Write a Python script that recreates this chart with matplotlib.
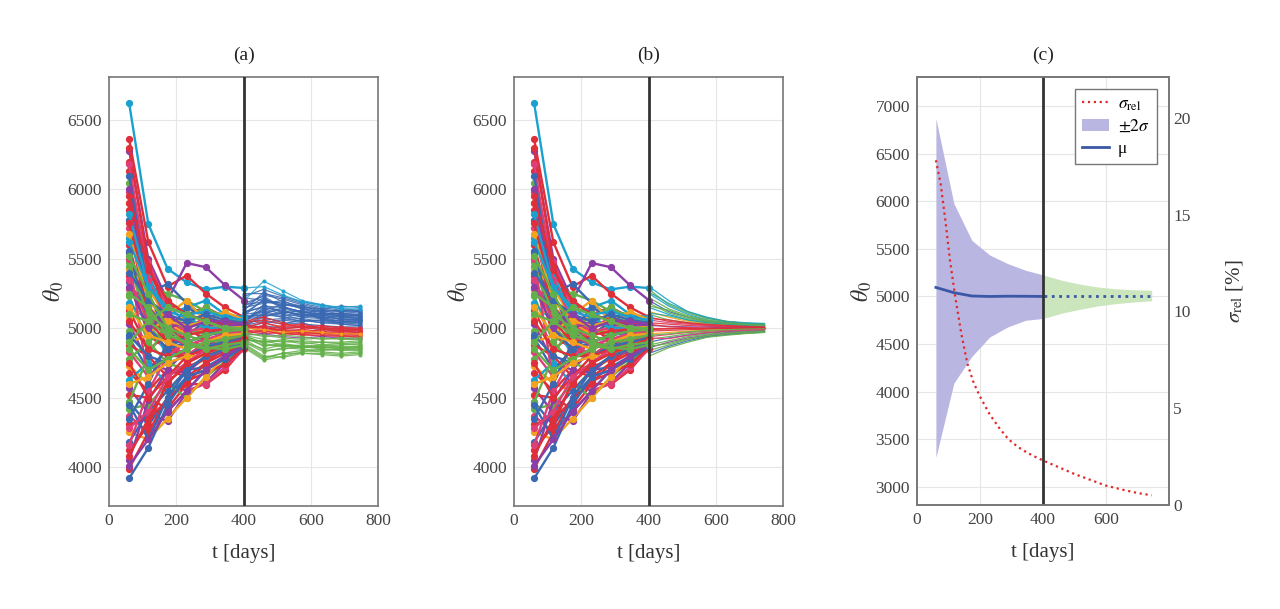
import matplotlib
matplotlib.use("Agg")
import matplotlib.pyplot as plt
from matplotlib.patches import Patch
from matplotlib.lines import Line2D

plt.rcParams['font.family'] = ['Liberation Serif', 'DejaVu Serif']
plt.rcParams['mathtext.fontset'] = 'stix'

# ---------------- data ----------------
t_pre = [60, 117, 174, 231, 288, 345, 402]
t_post = [402, 460, 517, 574, 632, 689, 745]

theta_pre = [
    [6620, 5750, 5430, 5330, 5280, 5300, 5290],
    [6360, 5620, 5300, 5380, 5250, 5150, 5080],
    [6280, 5500, 5200, 5470, 5440, 5310, 5200],
    [6130, 5400, 5180, 5100, 5150, 5080, 5020],
    [6050, 5300, 5250, 5200, 5120, 5100, 5050],
    [5980, 5480, 5150, 5050, 5100, 5020, 5000],
    [5900, 5350, 5000, 5100, 5050, 5060, 5030],
    [5850, 5200, 5100, 4950, 5000, 5050, 5010],
    [5780, 5250, 5320, 5180, 5080, 5100, 5060],
    [5720, 5100, 4950, 5000, 5080, 5000, 4990],
    [5650, 5380, 5100, 5150, 5200, 5100, 5080],
    [5600, 5050, 5000, 4900, 4950, 4980, 4960],
    [5540, 5150, 4900, 5050, 5000, 4950, 4980],
    [5480, 5000, 5200, 5100, 4980, 5020, 5000],
    [5430, 5280, 5080, 4950, 5050, 5120, 5060],
    [5380, 4950, 4850, 5000, 4920, 4960, 4970],
    [5330, 5100, 4980, 5150, 5080, 5040, 5020],
    [5280, 5220, 5050, 4900, 4880, 4950, 4990],
    [5230, 4900, 5000, 5080, 5150, 5070, 5040],
    [5180, 5050, 4800, 4850, 4950, 5000, 4980],
    [5130, 4850, 4950, 5020, 4900, 4900, 4950],
    [5080, 5150, 5050, 4950, 5000, 5060, 5010],
    [5030, 4750, 4700, 4850, 4900, 4880, 4930],
    [4980, 5000, 4900, 4800, 4850, 4930, 4960],
    [4930, 4700, 4850, 4950, 5050, 4990, 5000],
    [4880, 4800, 4650, 4750, 4820, 4900, 4940],
    [4830, 4650, 4800, 4900, 4870, 4850, 4920],
    [4780, 4900, 4750, 4700, 4800, 4870, 4910],
    [4730, 4600, 4550, 4700, 4780, 4820, 4900],
    [4680, 4550, 4700, 4650, 4750, 4860, 4930],
    [4630, 4750, 4600, 4550, 4700, 4800, 4900],
    [4570, 4390, 4330, 4540, 4610, 4750, 4880],
    [4520, 4500, 4420, 4600, 4595, 4700, 4860],
    [4470, 4300, 4500, 4650, 4700, 4780, 4870],
    [4420, 4450, 4600, 4500, 4650, 4760, 4890],
    [4370, 4250, 4400, 4550, 4600, 4720, 4850],
    [4310, 4350, 4480, 4620, 4680, 4740, 4860],
    [4250, 4200, 4350, 4500, 4650, 4800, 4880],
    [4180, 4400, 4550, 4700, 4720, 4800, 4900],
    [4120, 4300, 4620, 4720, 4780, 4850, 4920],
    [4050, 4480, 4700, 4680, 4800, 4830, 4890],
    [3990, 4250, 4500, 4600, 4750, 4820, 4900],
    [3920, 4140, 4450, 4650, 4700, 4780, 4870],
    [5900, 5000, 4850, 4800, 4900, 4950, 4980],
    [6200, 5150, 4900, 4750, 4850, 4900, 4950],
    [4470, 4800, 5050, 5000, 4950, 5000, 4990],
    [4160, 4550, 4800, 4900, 4850, 4880, 4920],
    [5500, 4600, 4900, 4800, 4900, 4920, 4950],
    [4900, 4950, 5100, 5200, 5050, 4980, 5000],
    [4350, 4600, 4900, 4900, 4850, 4900, 4930],
    [6300, 5450, 5100, 5000, 5050, 5020, 5010],
    [6180, 5350, 5050, 4980, 5000, 4990, 5000],
    [6100, 5250, 4950, 4900, 4950, 5000, 4990],
    [6000, 5150, 5000, 5050, 5020, 5030, 5020],
    [5950, 5420, 5200, 5100, 5060, 5040, 5040],
    [5820, 5300, 5120, 5080, 5000, 5010, 5000],
    [5760, 5050, 4900, 4950, 4980, 4990, 4990],
    [5680, 5200, 5050, 5020, 5050, 5000, 5010],
    [5620, 5300, 5150, 5100, 5120, 5080, 5060],
    [5560, 5000, 4850, 4900, 4950, 4970, 4980],
    [5450, 5100, 5000, 4950, 4900, 4950, 4970],
    [5400, 5200, 5100, 5050, 5100, 5060, 5040],
    [5350, 5050, 4950, 4880, 4920, 4960, 4980],
    [5300, 5000, 5100, 5000, 5050, 5050, 5030],
    [5250, 5150, 4950, 4900, 4950, 4980, 4990],
    [5150, 4950, 4900, 4850, 4900, 4950, 4960],
    [5100, 5050, 5150, 5100, 5050, 5000, 5000],
    [5050, 4850, 4800, 4800, 4850, 4900, 4940],
    [4950, 4800, 4750, 4800, 4870, 4900, 4930],
    [4850, 4700, 4780, 4850, 4900, 4920, 4950],
    [4750, 4500, 4650, 4800, 4850, 4880, 4920],
    [4600, 4650, 4750, 4800, 4800, 4850, 4900],
    [4450, 4200, 4500, 4700, 4800, 4850, 4900],
    [4280, 4400, 4650, 4750, 4850, 4880, 4910],
    [4080, 4350, 4600, 4750, 4820, 4870, 4920],
    [4010, 4200, 4400, 4550, 4700, 4800, 4880],
    [5520, 5250, 5000, 4880, 4850, 4880, 4900],
    [4900, 5050, 4950, 4900, 4860, 4850, 4880],
]
pre_colors = ['cyan', 'red', 'purple', 'red', 'green', 'pink', 'orange', 'red',
              'blue', 'pink', 'cyan', 'red', 'purple', 'green', 'orange', 'red',
              'blue', 'pink', 'green', 'cyan', 'red', 'orange', 'purple', 'green',
              'blue', 'red', 'pink', 'green', 'orange', 'red', 'cyan', 'purple',
              'red', 'blue', 'green', 'pink', 'red', 'orange', 'blue', 'red',
              'purple', 'red', 'blue', 'red', 'red', 'green', 'pink', 'pink',
              'orange', 'blue',
              'red', 'pink', 'blue', 'purple', 'red', 'cyan', 'red', 'orange',
              'cyan', 'blue', 'green', 'blue', 'pink', 'purple', 'green', 'orange',
              'green', 'red', 'blue', 'green', 'red', 'orange', 'blue', 'pink',
              'red', 'purple', 'green', 'green']

theta_post_a = [
    # blue group
    [5250, 5250, 5220, 5180, 5150, 5130, 5120],
    [5220, 5200, 5180, 5150, 5140, 5160, 5150],
    [5180, 5230, 5150, 5120, 5100, 5110, 5100],
    [5150, 5180, 5200, 5140, 5120, 5090, 5080],
    [5120, 5150, 5120, 5100, 5080, 5070, 5060],
    [5100, 5120, 5130, 5090, 5110, 5080, 5070],
    [5080, 5100, 5080, 5070, 5050, 5060, 5050],
    [5060, 5140, 5100, 5060, 5040, 5040, 5030],
    [5040, 5060, 5070, 5050, 5060, 5030, 5020],
    [5020, 5080, 5040, 5030, 5020, 5010, 5010],
    [5000, 5040, 5060, 5040, 5000, 5000, 4990],
    [5010, 5100, 5150, 5120, 5080, 5050, 5040],
    [5050, 5170, 5110, 5130, 5090, 5100, 5090],
    [5130, 5260, 5190, 5160, 5130, 5120, 5110],
    [5090, 5210, 5160, 5110, 5070, 5040, 5060],
    [4990, 5020, 5000, 5010, 4990, 4980, 4980],
    [5070, 5130, 5170, 5150, 5110, 5090, 5100],
    [5230, 5280, 5230, 5190, 5170, 5140, 5130],
    [5170, 5190, 5170, 5160, 5120, 5130, 5120],
    [5140, 5220, 5140, 5110, 5130, 5100, 5090],
    [5110, 5160, 5150, 5120, 5090, 5080, 5080],
    [5090, 5090, 5110, 5080, 5070, 5090, 5070],
    [5060, 5120, 5090, 5100, 5070, 5050, 5050],
    [5030, 5110, 5080, 5050, 5060, 5040, 5040],
    [5020, 5050, 5030, 5060, 5040, 5030, 5020],
    [5160, 5240, 5210, 5170, 5140, 5120, 5130],
    [5110, 5200, 5180, 5140, 5100, 5110, 5090],
    [5070, 5080, 5120, 5100, 5080, 5070, 5060],
    [5040, 5150, 5130, 5080, 5100, 5060, 5070],
    # cyan
    [5200, 5340, 5270, 5200, 5170, 5150, 5160],
    [5290, 5300, 5240, 5190, 5160, 5140, 5140],
    # red group
    [5060, 5040, 5010, 5020, 5000, 4990, 4990],
    [5030, 5000, 4990, 4980, 4970, 4980, 4970],
    [5010, 4980, 5000, 4990, 5010, 4990, 4980],
    [4990, 5020, 4980, 4960, 4960, 4970, 4960],
    [5040, 5060, 5030, 5010, 5020, 5000, 5000],
    [4980, 4960, 4970, 4950, 4950, 4940, 4940],
    [5020, 4990, 5020, 5030, 5000, 4980, 4990],
    [4970, 4990, 4950, 4960, 4940, 4950, 4930],
    [5000, 5010, 4960, 4990, 4980, 4960, 4950],
    [5050, 5080, 5040, 5000, 5010, 5010, 5000],
    [5010, 5040, 5000, 5010, 4990, 5000, 4990],
    [4990, 4970, 4990, 4970, 4970, 4960, 4970],
    [5020, 5010, 4980, 4970, 4990, 4980, 4970],
    [4960, 4980, 4960, 4970, 4960, 4950, 4950],
    # orange, purple
    [5000, 4990, 4970, 4980, 4970, 4960, 4960],
    [4950, 4960, 4940, 4930, 4940, 4930, 4920],
    # green group
    [4950, 4920, 4900, 4910, 4900, 4900, 4910],
    [4930, 4880, 4870, 4880, 4870, 4880, 4890],
    [4900, 4830, 4860, 4850, 4840, 4850, 4850],
    [4880, 4790, 4820, 4820, 4820, 4810, 4820],
    [4960, 4950, 4930, 4920, 4930, 4920, 4920],
    [4920, 4900, 4920, 4900, 4880, 4890, 4880],
    [4940, 4870, 4890, 4870, 4860, 4870, 4870],
    [4860, 4770, 4800, 4830, 4850, 4840, 4840],
    [4970, 4940, 4950, 4940, 4920, 4930, 4930],
    [4910, 4910, 4880, 4860, 4880, 4860, 4860],
    [4890, 4800, 4790, 4820, 4810, 4800, 4810],
    [4940, 4900, 4910, 4890, 4900, 4890, 4900],
    [4900, 4850, 4880, 4870, 4860, 4860, 4870],
    [4870, 4780, 4820, 4840, 4830, 4820, 4830],
    [4950, 4890, 4870, 4860, 4870, 4850, 4860],
    [4920, 4840, 4850, 4870, 4850, 4850, 4850],
]
post_a_colors = (['blue'] * 29 + ['cyan', 'cyan'] + ['red'] * 14 + ['orange', 'purple']
                 + ['green'] * 16)

theta_post_b = [
    [5300, 5200, 5120, 5080, 5050, 5040, 5035],
    [5280, 5170, 5110, 5070, 5050, 5035, 5030],
    [5250, 5160, 5100, 5060, 5040, 5030, 5025],
    [5220, 5140, 5090, 5060, 5040, 5030, 5025],
    [5200, 5120, 5080, 5050, 5035, 5025, 5020],
    [5180, 5110, 5070, 5045, 5030, 5022, 5018],
    [5150, 5100, 5060, 5040, 5028, 5020, 5015],
    [5120, 5080, 5050, 5035, 5025, 5018, 5014],
    [5100, 5060, 5040, 5030, 5020, 5015, 5012],
    [5080, 5050, 5035, 5025, 5018, 5013, 5010],
    [5060, 5040, 5030, 5020, 5015, 5010, 5008],
    [5040, 5030, 5020, 5015, 5010, 5008, 5006],
    [5020, 5015, 5010, 5008, 5005, 5004, 5003],
    [5000, 5000, 5000, 5000, 5000, 5000, 5000],
    [4980, 4985, 4990, 4993, 4995, 4996, 4997],
    [4960, 4970, 4980, 4985, 4990, 4992, 4994],
    [4940, 4955, 4970, 4978, 4985, 4988, 4990],
    [4920, 4940, 4960, 4972, 4980, 4985, 4987],
    [4900, 4930, 4950, 4965, 4975, 4980, 4984],
    [4880, 4910, 4940, 4958, 4970, 4976, 4980],
    [4860, 4900, 4930, 4950, 4965, 4972, 4977],
    [4840, 4880, 4920, 4945, 4960, 4968, 4974],
    [4820, 4870, 4910, 4940, 4955, 4965, 4972],
    [4800, 4860, 4900, 4935, 4950, 4962, 4970],
    [5110, 5090, 5060, 5040, 5030, 5020, 5015],
    [5030, 5010, 5005, 5000, 5000, 5000, 5000],
    [4990, 4995, 4998, 5000, 5002, 5003, 5004],
    [4950, 4960, 4975, 4985, 4990, 4994, 4996],
    [5260, 5180, 5120, 5075, 5048, 5036, 5030],
    [5160, 5130, 5080, 5052, 5036, 5028, 5022],
    [5070, 5060, 5040, 5028, 5020, 5014, 5010],
    [4930, 4925, 4950, 4968, 4980, 4986, 4990],
    [4870, 4890, 4925, 4948, 4962, 4972, 4978],
]
post_b_colors = ['cyan', 'green', 'cyan', 'green', 'blue', 'green', 'cyan', 'orange',
                 'green', 'red', 'pink', 'red', 'purple', 'red', 'red', 'orange',
                 'pink', 'green', 'blue', 'green', 'purple', 'green', 'blue', 'green',
                 'teal', 'red', 'red', 'green', 'teal', 'green', 'red', 'pink', 'green']

# panel (c)
band_upper_pre = [6870, 5977, 5590, 5435, 5345, 5275, 5225]
band_lower_pre = [3310, 4090, 4370, 4575, 4680, 4750, 4770]
mean_pre = [5095, 5040, 5005, 5000, 5003, 5002, 5000]
band_upper_post = [5225, 5170, 5130, 5100, 5080, 5070, 5065]
band_lower_post = [4770, 4825, 4865, 4900, 4925, 4942, 4955]
mean_post = [5000, 5000, 5000, 5000, 5000, 5000, 5000]
t_sig = [60, 75, 90, 105, 120, 140, 160, 180, 200, 230, 260, 290, 320, 350,
         380, 400, 450, 500, 550, 600, 650, 700, 745]
sigma_rel = [17.8, 16.6, 14.7, 12.6, 10.9, 8.9, 7.3, 6.3, 5.6, 4.7, 4.0, 3.4,
             3.0, 2.7, 2.45, 2.3, 1.95, 1.6, 1.3, 1.0, 0.8, 0.62, 0.5]

palette = {
    'cyan': '#1ba1d0', 'red': '#df2f3a', 'purple': '#8a3ea6', 'green': '#63b04a',
    'orange': '#f2a21d', 'pink': '#df3f78', 'blue': '#3a69b2', 'teal': '#2aa39a',
}

# ---------------- figure ----------------
fig = plt.figure(figsize=(12.8, 6.09), dpi=100)
axa = fig.add_axes([109/1280, 1-506/609, 269/1280, 429/609])
axb = fig.add_axes([514/1280, 1-506/609, 269/1280, 429/609])
axc = fig.add_axes([917/1280, 1-505/609, 252/1280, 428/609])

frame_col = '#777777'
tick_col = '#444444'


def style(ax, title):
    for s in ax.spines.values():
        s.set_color(frame_col)
        s.set_linewidth(1.2)
    ax.tick_params(length=0, labelsize=12.5, labelcolor=tick_col, pad=5)
    ax.grid(True, color='#e6e6e6', linewidth=0.8)
    ax.set_axisbelow(True)
    ax.set_title(title, fontsize=14, pad=12, color='#222222')
    ax.set_xlabel('t [days]', fontsize=15, labelpad=11, color='#333333')
    ax.set_ylabel(r'$\theta_0$', fontsize=17, labelpad=1, color='#333333')


for ax, post, pcols, mode in [(axa, theta_post_a, post_a_colors, 'a'),
                              (axb, theta_post_b, post_b_colors, 'b')]:
    for vals, c in zip(theta_pre, pre_colors):
        ax.plot(t_pre, vals, '-o', color=palette[c], lw=1.7, ms=4.2, zorder=3)
    for vals, c in zip(post, pcols):
        if mode == 'a':
            ax.plot(t_post, vals, '-o', color=palette[c], lw=0.9, ms=2.0, alpha=0.85, zorder=2)
        else:
            ax.plot(t_post, vals, '-', color=palette[c], lw=0.9, alpha=0.9, zorder=2)
    ax.axvline(400, color='#333333', lw=2, zorder=5)
    ax.set_xlim(0, 800)
    ax.set_ylim(3720, 6810)
    ax.set_xticks([0, 200, 400, 600, 800])
    ax.set_yticks([4000, 4500, 5000, 5500, 6000, 6500])

style(axa, '(a)')
style(axb, '(b)')

# panel (c)
axc.fill_between(t_pre, band_lower_pre, band_upper_pre, color='#b9b6e2', lw=0, zorder=2)
axc.fill_between(t_post, band_lower_post, band_upper_post, color='#cbe6bd', lw=0, zorder=2)
axc.plot(t_pre, mean_pre, '-', color='#3a58a6', lw=2, zorder=3)
axc.plot(t_post, mean_post, ':', color='#3a58a6', lw=2, zorder=3)
axc.axvline(400, color='#333333', lw=2, zorder=5)
axc.set_xlim(0, 800)
axc.set_ylim(2810, 7305)
axc.set_xticks([0, 200, 400, 600])
axc.set_yticks([3000, 3500, 4000, 4500, 5000, 5500, 6000, 6500, 7000])
style(axc, '(c)')

axr = axc.twinx()
axr.plot(t_sig, sigma_rel, ':', color='#e02a2a', lw=1.6, zorder=4)
axr.set_ylim(0, 22.1)
axr.set_yticks([0, 5, 10, 15, 20])
axr.tick_params(length=0, labelsize=12.5, labelcolor=tick_col, pad=3)
for s in axr.spines.values():
    s.set_color(frame_col)
    s.set_linewidth(1.2)
axr.set_ylabel(r'$\sigma_{\rm rel}$ [%]', fontsize=15, labelpad=24, color='#333333')

handles = [Line2D([0], [0], color='#e02a2a', ls=':', lw=1.6),
           Patch(facecolor='#b9b6e2', edgecolor='none'),
           Line2D([0], [0], color='#3a58a6', lw=2)]
labels = [r'$\sigma_{\rm rel}$', r'$\pm 2\sigma$', 'μ']
leg = axr.legend(handles, labels, loc='upper right', fontsize=12.5, fancybox=False,
                 edgecolor='#777777', framealpha=1, borderaxespad=0.7,
                 handlelength=1.6, handletextpad=0.5, labelspacing=0.35)
leg.get_frame().set_linewidth(1.0)

fig.savefig('out.png', dpi=100)
